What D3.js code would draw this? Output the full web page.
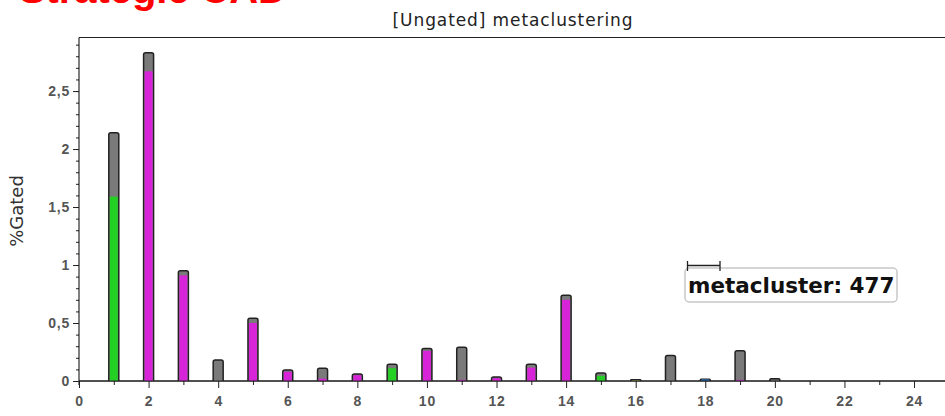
<!DOCTYPE html>
<html>
<head>
<meta charset="utf-8">
<script src="https://cdn.jsdelivr.net/npm/d3@7"></script>
<style>
  body { margin: 0; background: #fff; }
  svg { display: block; font-family: "DejaVu Sans", Verdana, sans-serif; }
</style>
</head>
<body>
<div id="chart"></div>
<script>
// metacluster ids on the x axis
const clusters = [1, 2, 3, 4, 5, 6, 7, 8, 9, 10, 11, 12, 13, 14, 15, 16, 17, 18, 19, 20];
// total %Gated per metacluster (grey bars)
const totalValues = [2.14, 2.83, 0.95, 0.18, 0.54, 0.095, 0.11, 0.06, 0.145, 0.28,
                     0.29, 0.035, 0.145, 0.74, 0.07, 0.01, 0.22, 0.015, 0.26, 0.02];
// coloured part of each bar
const gatedValues = [1.59, 2.67, 0.91, 0, 0.50, 0.08, 0.02, 0.05, 0.11, 0.26,
                     0.01, 0.025, 0.115, 0.70, 0.045, 0.008, 0, 0.015, 0.01, 0];
const gatedType = ["green", "magenta", "magenta", "none", "magenta", "magenta", "magenta", "magenta", "green", "magenta",
                   "magenta", "magenta", "magenta", "magenta", "green", "olive", "none", "blue", "magenta", "none"];
const yTicks = [0, 0.5, 1, 1.5, 2, 2.5];
const xTicks = [0, 2, 4, 6, 8, 10, 12, 14, 16, 18, 20, 22, 24];

const colors = { green: "#25d025", magenta: "#d824d8", blue: "#2a6db5", olive: "#8a9a50", none: "none" };

const W = 945, H = 416;
const svg = d3.select("#chart").append("svg").attr("width", W).attr("height", H);

const x = d3.scaleLinear().domain([0, 24.89]).range([79, 945]);
const y = d3.scaleLinear().domain([0, 2.966]).range([381, 37]);

// red heading, cut by the top edge
svg.append("text")
  .attr("x", 19).attr("y", 3)
  .attr("fill", "#ff0000")
  .attr("font-family", "Liberation Sans, Arial, sans-serif")
  .attr("font-weight", "bold")
  .attr("font-size", 40)
  .attr("textLength", 268)
  .text("Strategie CAD");

// title
svg.append("text")
  .attr("x", 513).attr("y", 26)
  .attr("text-anchor", "middle")
  .attr("font-size", 17)
  .attr("letter-spacing", 0.9)
  .attr("fill", "#222")
  .text("[Ungated] metaclustering");

// frame top line
svg.append("line")
  .attr("x1", x(0)).attr("x2", W).attr("y1", 37.5).attr("y2", 37.5)
  .attr("stroke", "#222");

// y axis
const yAxis = d3.axisLeft(y).tickValues(yTicks).tickSize(6)
  .tickFormat(d => d3.format("~g")(d).replace(".", ","));
const yMinor = d3.axisLeft(y).tickValues(d3.range(0, 30).map(i => i / 10)).tickSize(3).tickFormat("");
svg.append("g").attr("transform", `translate(${x(0)},0)`).call(yMinor)
  .call(g => g.select(".domain").remove());
const gy = svg.append("g").attr("transform", `translate(${x(0)},0)`).call(yAxis);
gy.select(".domain").attr("d", `M0,37.5V${y(0) + 4}`);
gy.selectAll("text").attr("font-size", 14).attr("font-weight", "bold").attr("letter-spacing", 0.8)
  .attr("fill", "#555").attr("x", -9);

// x axis
const xAxis = d3.axisBottom(x).tickValues(xTicks).tickSize(7).tickFormat(d3.format("d"));
const xMinor = d3.axisBottom(x).tickValues(d3.range(1, 25, 2)).tickSize(4).tickFormat("");
svg.append("g").attr("transform", `translate(0,${y(0)})`).call(xMinor)
  .call(g => g.select(".domain").remove());
const gx = svg.append("g").attr("transform", `translate(0,${y(0)})`).call(xAxis);
gx.select(".domain").attr("d", `M${x(0)},0H${W}`);
gx.selectAll("text").attr("font-size", 14).attr("font-weight", "bold").attr("letter-spacing", 0.8)
  .attr("fill", "#555").attr("y", 15);
svg.selectAll(".tick line").attr("stroke", "#222");

// y label
svg.append("text")
  .attr("transform", `translate(23,${(y(0) + 37) / 2 + 2}) rotate(-90)`)
  .attr("text-anchor", "middle")
  .attr("font-size", 18)
  .attr("fill", "#333")
  .text("%Gated");

// bars
const barW = 10;
const data = clusters.map((c, i) => ({ c, total: totalValues[i], gated: gatedValues[i], type: gatedType[i] }));

const bars = svg.append("g");
bars.selectAll(".total").data(data).enter().append("path")
  .attr("class", "total")
  .attr("d", d => {
    const x0 = x(d.c) - barW / 2, x1 = x(d.c) + barW / 2, yt = y(d.total), yb = y(0);
    const r = Math.min(2, (yb - yt) / 2);
    return `M${x0},${yb}V${yt + r}Q${x0},${yt} ${x0 + r},${yt}H${x1 - r}Q${x1},${yt} ${x1},${yt + r}V${yb}`;
  })
  .attr("fill", "#7a7a7a")
  .attr("stroke", "#222")
  .attr("stroke-width", 1.5);

bars.selectAll(".gated").data(data.filter(d => d.gated > 0 && d.type !== "none")).enter().append("rect")
  .attr("class", "gated")
  .attr("x", d => x(d.c) - barW / 2 + 1)
  .attr("width", barW - 2)
  .attr("y", d => y(d.gated))
  .attr("height", d => y(0) - y(d.gated))
  .attr("fill", d => colors[d.type]);

// baseline over bars
svg.append("line")
  .attr("x1", x(0)).attr("x2", W).attr("y1", y(0)).attr("y2", y(0))
  .attr("stroke", "#222");

// annotation
const ann = svg.append("g");
ann.append("rect")
  .attr("x", 685).attr("y", 268).attr("width", 212).attr("height", 34)
  .attr("rx", 4)
  .attr("fill", "#fff").attr("stroke", "#c8c8c8").attr("stroke-width", 1.5);
ann.append("path")
  .attr("d", "M687.5,261V271M687.5,265.5H720M720,261V271")
  .attr("stroke", "#222").attr("fill", "none").attr("stroke-width", 1.3);
ann.append("text")
  .attr("x", 688).attr("y", 293)
  .attr("font-size", 21.5).attr("font-weight", "bold").attr("fill", "#111")
  .text("metacluster: 477");
</script>
</body>
</html>
